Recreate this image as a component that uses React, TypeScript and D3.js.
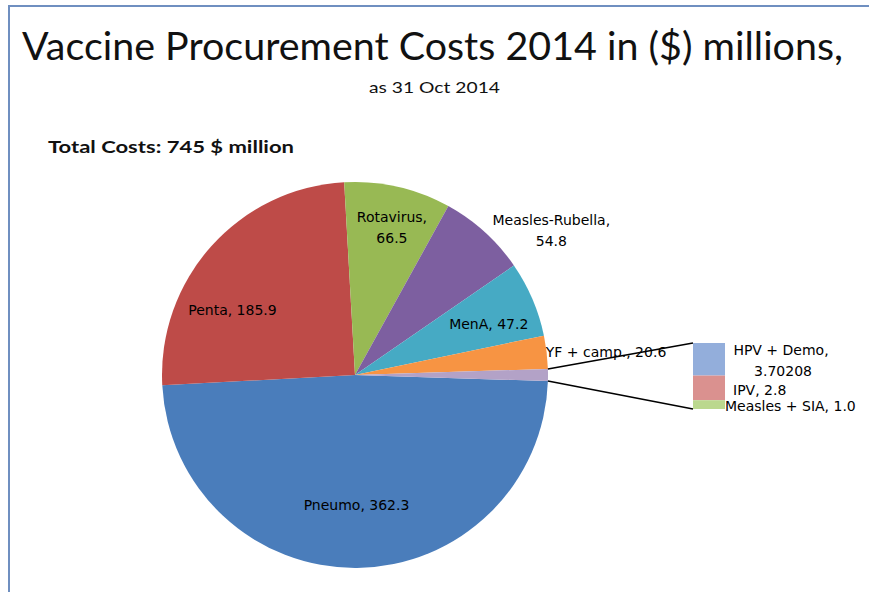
import React from "react";
import * as d3 from "d3";

const categories = ["Pneumo", "Penta", "Rotavirus", "Measles-Rubella", "MenA", "YF + camp.", "Other"];
const mainValues = [362.3, 185.9, 66.5, 54.8, 47.2, 20.6];
const otherCategories = ["HPV + Demo", "IPV", "Measles + SIA"];
const otherValues = [3.70208, 2.8, 1.0];
const sliceColors = ["#4A7DBB", "#BE4B48", "#98B954", "#7D5FA0", "#46AAC4", "#F79443", "#B3A2C7"];
const otherColors = ["#93AEDB", "#DA918F", "#BBD88E"];
const titleText = "Vaccine Procurement Costs 2014 in ($) millions,";
const subtitleText = "as 31 Oct 2014";
const totalText = "Total Costs: 745 $ million";

// layout (not data)
const W = 869, H = 592;
const cx = 355, cy = 375, R = 193;
const labelR = 139;
const labelOffsets: [number, number][] = [
  [0, -9], [-19, 28], [6, -12], [103, -42], [6, 4], [113, -7], [0, 0],
];
const twoLine = [false, false, true, true, false, false, false];
const barX = 693, barTop = 343, barW = 32, barH = 66;

const fmt = (v: number) =>
  Math.abs(v * 10 - Math.round(v * 10)) < 1e-9 ? v.toFixed(1) : String(v);

export default function App() {
  const otherSum = d3.sum(otherValues);
  const values = [...mainValues, otherSum];
  const total = d3.sum(values);
  const start = Math.PI / 2 + (otherSum / total) * Math.PI;
  const pie = d3.pie<number>().sort(null).startAngle(start).endAngle(start + 2 * Math.PI);
  const arcs = pie(values);
  const arc = d3.arc<d3.PieArcDatum<number>>().innerRadius(0).outerRadius(R);
  const lArc = d3.arc<d3.PieArcDatum<number>>().innerRadius(labelR).outerRadius(labelR);

  const otherArc = arcs[arcs.length - 1];
  const pt = (a: number) => [cx + R * Math.sin(a), cy - R * Math.cos(a)];
  const [ux, uy] = pt(otherArc.startAngle);
  const [lx, ly] = pt(otherArc.endAngle);

  const yScale = d3.scaleLinear().domain([0, otherSum]).range([0, barH]);
  let acc = 0;
  const segs = otherValues.map((v, i) => {
    const y0 = barTop + yScale(acc);
    acc += v;
    const y1 = barTop + yScale(acc);
    return { i, v, y0, y1 };
  });

  const labelFont = "'DejaVu Sans', Verdana, sans-serif";
  const fs = 14;

  return (
    <svg width={W} height={H} style={{ position: "absolute", left: 0, top: 0, background: "#fff" }}>
      <rect x={0} y={0} width={W} height={H} fill="#fff" />
      <rect x={9} y={6} width={W + 20} height={H + 20} fill="none" stroke="#6F8FC0" strokeWidth={2} />
      <text x={22} y={60} fontFamily="Lato, 'Open Sans', sans-serif" fontSize={39} textLength={821}
        lengthAdjust="spacingAndGlyphs" fill="#111">{titleText}</text>
      <text x={369} y={93} fontFamily="Lato, sans-serif" fontSize={16} textLength={131}
        lengthAdjust="spacingAndGlyphs" fill="#111">{subtitleText}</text>
      <text x={48} y={153} fontFamily="Lato, sans-serif" fontWeight="bold" fontSize={17.5} textLength={246}
        lengthAdjust="spacingAndGlyphs" fill="#111">{totalText}</text>

      <g transform={`translate(${cx},${cy})`}>
        {arcs.map((a, i) => (
          <path key={i} d={arc(a) || ""} fill={sliceColors[i]} />
        ))}
      </g>

      {arcs.slice(0, mainValues.length).map((a, i) => {
        const [px, py] = lArc.centroid(a);
        const x = cx + px + labelOffsets[i][0];
        const y = cy + py + labelOffsets[i][1];
        if (twoLine[i]) {
          return (
            <text key={i} x={x} y={y} textAnchor="middle" fontFamily={labelFont} fontSize={fs} fill="#000">
              <tspan x={x} dy={-5}>{categories[i] + ","}</tspan>
              <tspan x={x} dy={21}>{fmt(mainValues[i])}</tspan>
            </text>
          );
        }
        return (
          <text key={i} x={x} y={y + 5} textAnchor="middle" fontFamily={labelFont} fontSize={fs} fill="#000">
            {`${categories[i]}, ${fmt(mainValues[i])}`}
          </text>
        );
      })}

      <line x1={ux} y1={uy} x2={barX} y2={barTop} stroke="#000" strokeWidth={1.5} />
      <line x1={lx} y1={ly} x2={barX} y2={barTop + barH} stroke="#000" strokeWidth={1.5} />

      {segs.map((s) => (
        <rect key={s.i} x={barX} y={s.y0} width={barW} height={s.y1 - s.y0} fill={otherColors[s.i]} />
      ))}

      {/* bar labels */}
      <text x={barX + barW + 56} y={(segs[0].y0 + segs[0].y1) / 2 + 2} textAnchor="middle"
        fontFamily={labelFont} fontSize={fs} fill="#000">
        <tspan x={barX + barW + 56} dy={-6}>{otherCategories[0] + ","}</tspan>
        <tspan x={barX + barW + 58} dy={21}>{fmt(otherValues[0])}</tspan>
      </text>
      <text x={barX + barW + 8} y={(segs[1].y0 + segs[1].y1) / 2 + 7} fontFamily={labelFont} fontSize={fs} fill="#000">
        {`${otherCategories[1]}, ${fmt(otherValues[1])}`}
      </text>
      <text x={barX + barW} y={(segs[2].y0 + segs[2].y1) / 2 + 6} fontFamily={labelFont} fontSize={fs} fill="#000">
        {`${otherCategories[2]}, ${fmt(otherValues[2])}`}
      </text>
    </svg>
  );
}
